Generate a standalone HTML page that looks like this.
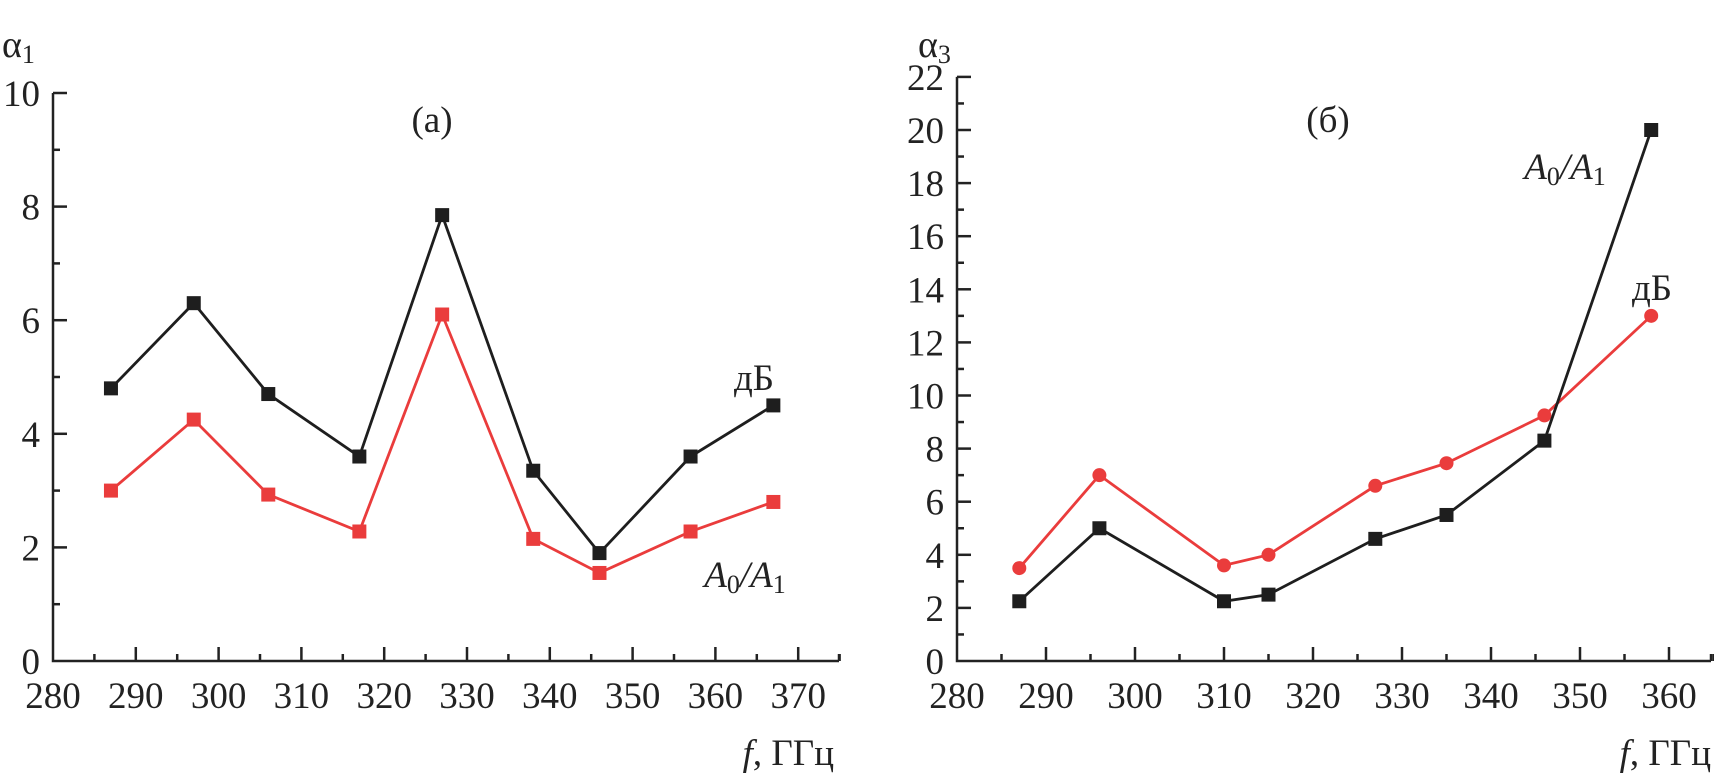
<!DOCTYPE html>
<html><head><meta charset="utf-8"><style>
html,body{margin:0;padding:0;background:#fff;}
svg{display:block;font-family:"Liberation Serif",serif;}
</style></head><body>
<svg id="chart" width="1714" height="773" viewBox="0 0 1714 773"></svg>
<script>
const leftFreq=[287,297,306,317,327,338,346,357,367];
const leftDb=[4.8,6.3,4.7,3.6,7.85,3.35,1.9,3.6,4.5];
const leftRatio=[3.0,4.25,2.93,2.28,6.1,2.15,1.55,2.28,2.8];
const leftXTicks=[280,290,300,310,320,330,340,350,360,370];
const leftYTicks=[0,2,4,6,8,10];
const rightFreq=[287,296,310,315,327,335,346,358];
const rightRatio=[2.25,5.0,2.25,2.5,4.6,5.5,8.3,20];
const rightDb=[3.5,7.0,3.6,4.0,6.6,7.45,9.25,13];
const rightXTicks=[280,290,300,310,320,330,340,350,360];
const rightYTicks=[0,2,4,6,8,10,12,14,16,18,20,22];

const NS="http://www.w3.org/2000/svg";
const svg=document.getElementById('chart');
function el(t,a,p){const e=document.createElementNS(NS,t);for(const k in a)e.setAttribute(k,a[k]);(p||svg).appendChild(e);return e;}

function panel(cfg){
  const g=el('g',{});
  
  
  const X=v=>cfg.x0+(v-cfg.xmin)*cfg.xs, Y=v=>cfg.y0-v*cfg.ys;
  const ax=el('path',{d:`M${cfg.x0},${Y(cfg.ymax)} L${cfg.x0},${cfg.y0} L${cfg.xend},${cfg.y0} M${cfg.xend},${cfg.y0} L${cfg.xend},${cfg.y0-7}`,stroke:'#222','stroke-width':2.5,fill:'none'},g);
  
  
  cfg.xticks.forEach((v,i)=>{
    if(i>0){const t=el('line',{x1:X(v),x2:X(v),y1:cfg.y0,y2:cfg.y0-14,stroke:'#222','stroke-width':2.5},g);
    }
    const m=el('line',{x1:X(v+5),x2:X(v+5),y1:cfg.y0,y2:cfg.y0-7,stroke:'#222','stroke-width':2.5},g);
    
    const tx=el('text',{x:X(v),y:cfg.y0+47,'text-anchor':'middle','font-size':37,fill:'#222'},g);
    tx.textContent=v;
  });
  cfg.yticks.forEach((v,i)=>{
    if(i>0){const t=el('line',{x1:cfg.x0,x2:cfg.x0+14,y1:Y(v),y2:Y(v),stroke:'#222','stroke-width':2.5},g);
    }
    if(i<cfg.yticks.length-1){const mv=(v+cfg.yticks[i+1])/2;
    const m=el('line',{x1:cfg.x0,x2:cfg.x0+7,y1:Y(mv),y2:Y(mv),stroke:'#222','stroke-width':2.5},g);
    }
    const tx=el('text',{x:cfg.x0-13,y:Y(v)+13,'text-anchor':'end','font-size':37,fill:'#222'},g);
    tx.textContent=v;
  });
  cfg.series.forEach(s=>{
    const pts=s.xs.map((x,i)=>X(x)+','+Y(s.ys[i])).join(' ');
    const pl=el('polyline',{points:pts,fill:'none',stroke:s.color,'stroke-width':2.8},g);
    
    s.xs.forEach((x,i)=>{
      let m;
      if(s.marker==='square') m=el('rect',{x:X(x)-7,y:Y(s.ys[i])-7,width:14,height:14,fill:s.color},g);
      else m=el('circle',{cx:X(x),cy:Y(s.ys[i]),r:7,fill:s.color},g);
      
    });
  });
}
panel({name:'panel-a',x0:53,xend:839,xmin:280,xs:8.28,y0:661,ys:56.8,ymax:10,xticks:leftXTicks,yticks:leftYTicks,
 series:[{name:'a-db',xs:leftFreq,ys:leftDb,color:'#1e1e1e',marker:'square'},{name:'a-ratio',xs:leftFreq,ys:leftRatio,color:'#ea3c3c',marker:'square'}]});
panel({name:'panel-b',x0:957,xend:1711,xmin:280,xs:8.9,y0:661,ys:26.55,ymax:22,xticks:rightXTicks,yticks:rightYTicks,
 series:[{name:'b-db',xs:rightFreq,ys:rightDb,color:'#ea3c3c',marker:'circle'},{name:'b-ratio',xs:rightFreq,ys:rightRatio,color:'#1e1e1e',marker:'square'}]});
</script>
<div style="position:absolute;left:0;top:0;width:1714px;height:773px;pointer-events:none;">
<svg width="1714" height="773" style="font-family:'Liberation Serif',serif">
<text x="2" y="57" font-size="38" fill="#222">α<tspan font-size="26" dy="6">1</tspan></text>
<text x="918" y="57" font-size="38" fill="#222">α<tspan font-size="26" dy="6">3</tspan></text>
<text x="432" y="132" font-size="37" fill="#222" text-anchor="middle">(а)</text>
<text x="1328" y="132" font-size="37" fill="#222" text-anchor="middle">(б)</text>
<text x="834" y="765" font-size="37" fill="#222" text-anchor="end"><tspan font-style="italic">f</tspan>, ГГц</text>
<text x="1711" y="765" font-size="37" fill="#222" text-anchor="end"><tspan font-style="italic">f</tspan>, ГГц</text>
<text x="754" y="390" font-size="37" fill="#222" text-anchor="middle">дБ</text>
<text x="745" y="587" font-size="37" fill="#222" text-anchor="middle" font-style="italic">A<tspan font-size="26" dy="6" font-style="normal">0</tspan><tspan dy="-6">/A</tspan><tspan font-size="26" dy="6" font-style="normal">1</tspan></text>
<text x="1565" y="179" font-size="37" fill="#222" text-anchor="middle" font-style="italic">A<tspan font-size="26" dy="6" font-style="normal">0</tspan><tspan dy="-6">/A</tspan><tspan font-size="26" dy="6" font-style="normal">1</tspan></text>
<text x="1652" y="300" font-size="37" fill="#222" text-anchor="middle">дБ</text>
</svg></div>
</body></html>
